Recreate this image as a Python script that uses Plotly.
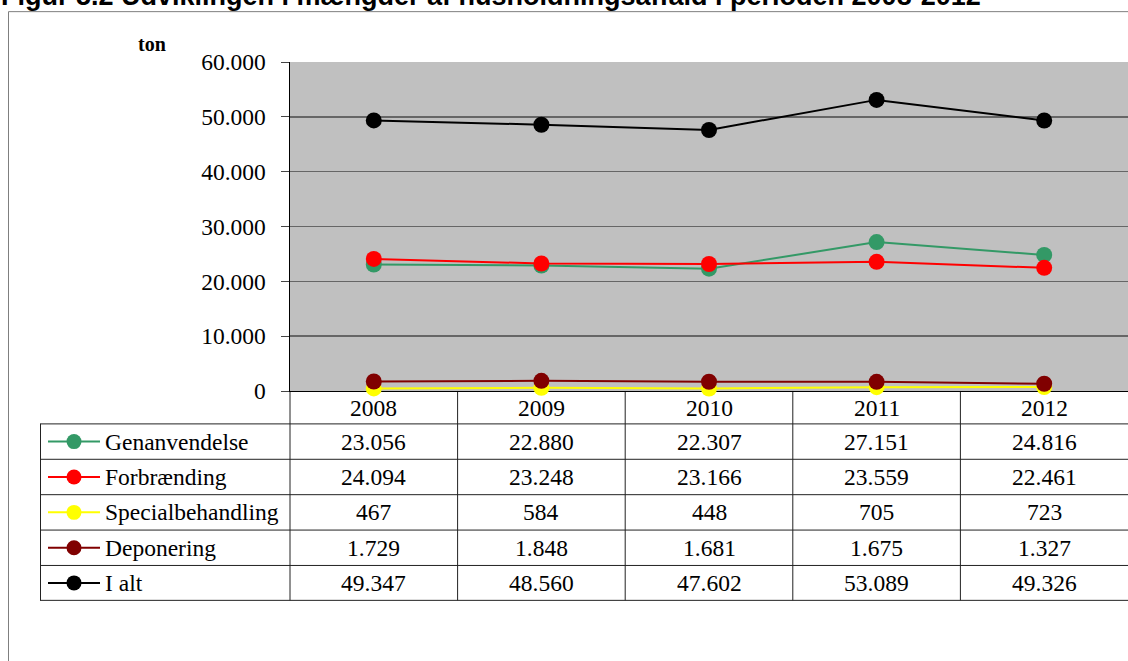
import plotly.graph_objects as go

W, H = 1128, 661

years = ["2008", "2009", "2010", "2011", "2012"]
series_names = ["Genanvendelse", "Forbrænding", "Specialbehandling", "Deponering", "I alt"]
genanvendelse = [23056, 22880, 22307, 27151, 24816]
forbraending = [24094, 23248, 23166, 23559, 22461]
specialbehandling = [467, 584, 448, 705, 723]
deponering = [1729, 1848, 1681, 1675, 1327]
i_alt = [49347, 48560, 47602, 53089, 49326]
y_ticks = [0, 10000, 20000, 30000, 40000, 50000, 60000]

series_values = [genanvendelse, forbraending, specialbehandling, deponering, i_alt]
colors = ["#339966", "#FF0000", "#FFFF00", "#800000", "#000000"]

# the viewer maps layout pixel y to picture y as  y' = 0.9636*y + 10.85
SY, OY = 0.9636, 10.85

def px(x):
    return x / W

def py(y_pic):
    y = (y_pic - OY) / SY
    return 1 - y / H

SERIF = "Liberation Serif, Times New Roman, serif"
FS = 23.5

fig = go.Figure()
for name, vals, c in zip(series_names, series_values, colors):
    fig.add_trace(go.Scatter(
        x=list(range(len(years))), y=vals, name=name, mode="lines+markers",
        line=dict(color=c, width=2),
        marker=dict(color=c, size=16, line=dict(width=0)),
        cliponaxis=False, showlegend=False, hoverinfo="skip",
    ))

def fmt(v):
    return f"{v:,}".replace(",", ".")

shapes = []
annotations = []

# outer frame (top and left edges visible)
shapes.append(dict(type="line", xref="paper", yref="paper",
                   x0=px(8.5), x1=px(1128), y0=py(9.5), y1=py(9.5),
                   line=dict(color="#7f7f7f", width=1)))
shapes.append(dict(type="line", xref="paper", yref="paper",
                   x0=px(8.5), x1=px(8.5), y0=py(9.5), y1=py(661),
                   line=dict(color="#7f7f7f", width=1)))

# table geometry
row_tops = [423, 458.5, 494, 529.5, 565, 600]
col_edges = [290, 457.6, 625.2, 792.8, 960.4, 1128]
line_col = "#222222"
for yv in row_tops:
    shapes.append(dict(type="line", xref="paper", yref="paper",
                       x0=px(40), x1=px(1128), y0=py(yv), y1=py(yv),
                       line=dict(color=line_col, width=1)))
shapes.append(dict(type="line", xref="paper", yref="paper",
                   x0=px(40.5), x1=px(40.5), y0=py(423), y1=py(600),
                   line=dict(color=line_col, width=1)))
for xe in col_edges[:-1]:
    shapes.append(dict(type="line", xref="paper", yref="paper",
                       x0=px(xe), x1=px(xe), y0=py(390), y1=py(600),
                       line=dict(color=line_col, width=1), layer="below"))

# year header
for i, yr in enumerate(years):
    annotations.append(dict(x=i, xref="x", y=py(407), yref="paper",
                            text=yr, showarrow=False,
                            font=dict(family=SERIF, size=FS, color="black"),
                            xanchor="center", yanchor="middle"))

# rows
for r, (name, vals, c) in enumerate(zip(series_names, series_values, colors)):
    yc = (row_tops[r] + row_tops[r + 1]) / 2
    shapes.append(dict(type="line", xref="paper", yref="paper",
                       x0=px(48), x1=px(100), y0=py(yc), y1=py(yc),
                       line=dict(color=c, width=2)))
    shapes.append(dict(type="circle", xref="paper", yref="paper",
                       x0=px(74 - 7.5), x1=px(74 + 7.5), y0=py(yc + 7.5), y1=py(yc - 7.5),
                       fillcolor=c, line=dict(color=c, width=0)))
    annotations.append(dict(x=px(103), xref="paper", y=py(yc), yref="paper",
                            text=name, showarrow=False, xanchor="left", yanchor="middle",
                            font=dict(family=SERIF, size=FS, color="black")))
    for i, v in enumerate(vals):
        annotations.append(dict(x=i, xref="x", y=py(yc), yref="paper",
                                text=fmt(v), showarrow=False,
                                xanchor="center", yanchor="middle",
                                font=dict(family=SERIF, size=FS, color="black")))

# axis unit label
annotations.append(dict(x=px(152), xref="paper", y=py(42), yref="paper",
                        text="<b>ton</b>", showarrow=False, xanchor="center", yanchor="middle",
                        font=dict(family=SERIF, size=20, color="black")))

# title (cut off at top, as in the reference)
annotations.append(dict(x=px(-1), xref="paper", y=py(-6), yref="paper",
                        text="<b>Figur 5.2 Udviklingen i mængder af husholdningsaffald i perioden 2008-2012</b>",
                        showarrow=False, xanchor="left", yanchor="middle",
                        font=dict(family="Liberation Sans, Arial, sans-serif", size=27, color="black")))

fig.update_layout(
    width=W, height=H,
    margin=dict(l=0, r=0, t=0, b=0),
    paper_bgcolor="white",
    plot_bgcolor="#C0C0C0",
    separators=",.",
    hovermode=False,
    shapes=shapes,
    annotations=annotations,
    xaxis=dict(domain=[px(290), 1], range=[-0.5, 4.5], layer="below traces",
               showticklabels=False, showgrid=False, zeroline=False,
               showline=True, linecolor="black", linewidth=1.5, ticks=""),
    yaxis=dict(domain=[py(390), py(60)], range=[0, 60000], tickvals=y_ticks,
               tickformat=",d", showgrid=True, gridcolor="#666666", gridwidth=1.5,
               zeroline=False, showline=True, linecolor="black", linewidth=1.5,
               ticks="outside", ticklen=8, tickcolor="#444444",
               ticklabelstandoff=10,
               tickfont=dict(family=SERIF, size=FS, color="black")),
)

post = (
    "document.documentElement.style.margin='0';"
    "document.documentElement.style.height='661px';"
    "document.documentElement.style.overflow='hidden';"
    "document.body.style.margin='0';"
    "document.body.style.height='661px';"
    "document.body.style.overflow='hidden';"
    "var d=document.getElementById('{plot_id}');"
    "d.style.position='fixed';d.style.left='0px';d.style.top='0px';"
)

fig.write_html("out.html", config={"displayModeBar": False, "staticPlot": True}, post_script=post)
